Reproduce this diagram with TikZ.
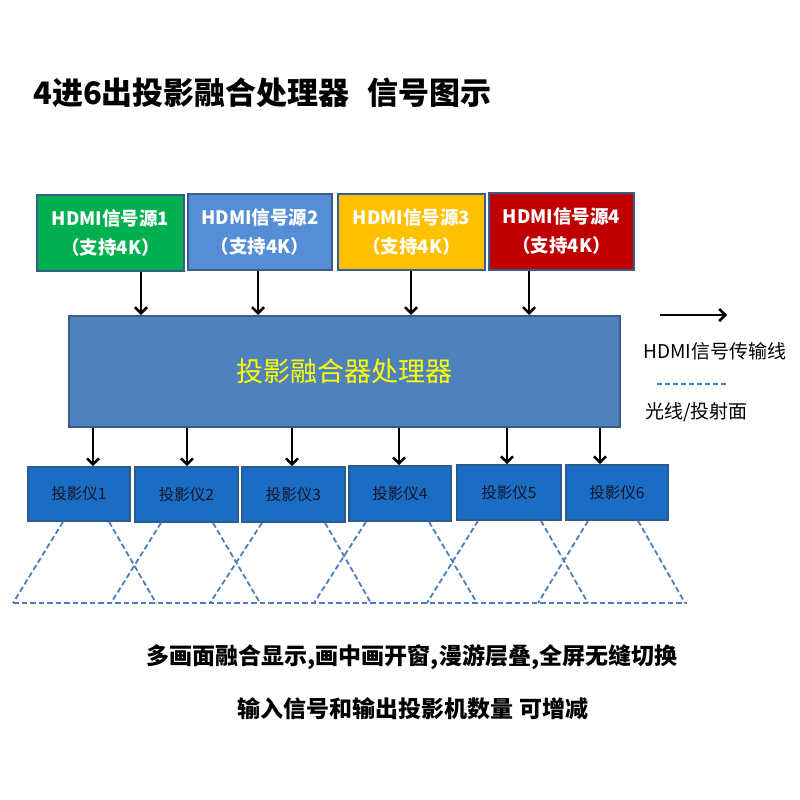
\documentclass[tikz,border=0pt]{standalone}
\usepackage{fontspec}
\setmainfont{Noto Sans CJK SC}
\usetikzlibrary{arrows.meta,calc}
\definecolor{sgreen}{HTML}{00B050}
\definecolor{sblue}{HTML}{558ED5}
\definecolor{syellow}{HTML}{FFC000}
\definecolor{sred}{HTML}{C00000}
\definecolor{bordc}{HTML}{385D8A}
\definecolor{mainc}{HTML}{4F81BD}
\definecolor{projc}{HTML}{1A6DC2}
\definecolor{projb}{HTML}{2C5C8E}
\definecolor{rayc}{HTML}{4A7EBB}
\definecolor{ytext}{HTML}{FFFF00}
\definecolor{ptext}{HTML}{15152A}
\begin{document}
\begin{tikzpicture}[x=1pt,y=-1pt,
  srcbox/.style={draw=bordc, line width=2pt, inner sep=0pt, align=center, text=white,
    font=\fontsize{18.5}{29}\selectfont\bfseries},
  mainbox/.style={draw=bordc, line width=2pt, fill=mainc, inner sep=0pt, text=ytext,
    font=\fontsize{27}{30}\selectfont},
  projbox/.style={draw=projb, line width=1.6pt, fill=projc, inner sep=0pt, text=ptext,
    font=\fontsize{15.5}{18}\selectfont},
  arr/.style={draw=black, line width=2.8pt, -{Straight Barb[length=6pt,width=12pt,line width=2.6pt]}},
  ray/.style={draw=rayc, line width=1.8pt, dash pattern=on 5.5pt off 3pt},
  lbl/.style={inner sep=0pt, text=black},
]
\useasboundingbox (0,0) rectangle (800,800);
\fill[white] (0,0) rectangle (800,800);

% title
\node[lbl, anchor=west, font=\fontsize{31}{34}\selectfont\bfseries] (title) at (33,93)
  {4进6出投影融合处理器\hspace{18pt}信号图示};

% sources
\node[srcbox, fill=sgreen, minimum width=147pt, minimum height=76pt] (s1) at (110.5,233) {HDMI信号源1\\（支持4K）};
\node[srcbox, fill=sblue, minimum width=144pt, minimum height=76pt] (s2) at (260,232) {HDMI信号源2\\（支持4K）};
\node[srcbox, fill=syellow, minimum width=147pt, minimum height=76pt] (s3) at (411.5,232) {HDMI信号源3\\（支持4K）};
\node[srcbox, fill=sred, minimum width=145pt, minimum height=77pt] (s4) at (561.5,231.5) {HDMI信号源4\\（支持4K）};

% main box
\node[mainbox, minimum width=551pt, minimum height=111pt] (m) at (344.5,371.5) {投影融合器处理器};

% arrows sources -> main
\draw[arr] (141,0 |- s1.south) -- (141,0 |- m.north);
\draw[arr] (258,0 |- s2.south) -- (258,0 |- m.north);
\draw[arr] (411,0 |- s3.south) -- (411,0 |- m.north);
\draw[arr] (529,0 |- s4.south) -- (529,0 |- m.north);

% projectors
\node[projbox, minimum width=102pt, minimum height=54pt] (p1) at (79,494) {投影仪1};
\node[projbox, minimum width=103pt, minimum height=55pt] (p2) at (186.5,494.5) {投影仪2};
\node[projbox, minimum width=103pt, minimum height=55pt] (p3) at (293.5,494.5) {投影仪3};
\node[projbox, minimum width=102pt, minimum height=55pt] (p4) at (400,493.5) {投影仪4};
\node[projbox, minimum width=104pt, minimum height=55pt] (p5) at (509,492.5) {投影仪5};
\node[projbox, minimum width=102pt, minimum height=55pt] (p6) at (617,492.5) {投影仪6};

% arrows main -> projectors
\draw[arr] (93,0 |- m.south) -- (93,0 |- p1.north);
\draw[arr] (187,0 |- m.south) -- (187,0 |- p2.north);
\draw[arr] (292,0 |- m.south) -- (292,0 |- p3.north);
\draw[arr] (399,0 |- m.south) -- (399,0 |- p4.north);
\draw[arr] (507,0 |- m.south) -- (507,0 |- p5.north);
\draw[arr] (600,0 |- m.south) -- (600,0 |- p6.north);

% light rays
\coordinate (bl) at (13,603);
\coordinate (br) at (687,603);
\draw[ray] (bl) -- (br);
\draw[ray] (63,0 |- p1.south) -- (13,603);
\draw[ray] (109,0 |- p1.south) -- (156,603);
\draw[ray] (161,0 |- p2.south) -- (111,603);
\draw[ray] (213,0 |- p2.south) -- (260,603);
\draw[ray] (262,0 |- p3.south) -- (210,603);
\draw[ray] (325,0 |- p3.south) -- (371,603);
\draw[ray] (366,0 |- p4.south) -- (314,603);
\draw[ray] (429,0 |- p4.south) -- (477,603);
\draw[ray] (478,0 |- p5.south) -- (427,603);
\draw[ray] (541,0 |- p5.south) -- (588,603);
\draw[ray] (588,0 |- p6.south) -- (538,603);
\draw[ray] (638,0 |- p6.south) -- (685,603);

% legend
\coordinate (la) at (660,315);
\coordinate (lb) at (727,315);
\draw[arr] (la) -- (lb);
\node[lbl, anchor=west, font=\fontsize{19}{20}\selectfont] (lt1) at (643,351) {HDMI信号传输线};
\coordinate (da) at (657,384);
\coordinate (db) at (728,384);
\draw[draw=rayc, line width=2pt, dash pattern=on 5pt off 3pt] (da) -- (db);
\node[lbl, anchor=west, font=\fontsize{19}{20}\selectfont] (lt2) at (645,412) {光线/投射面};

% bottom texts
\node[lbl, font=\fontsize{23}{26}\selectfont\bfseries] (b1) at (412,657) {多画面融合显示,画中画开窗,漫游层叠,全屏无缝切换};
\node[lbl, font=\fontsize{23}{26}\selectfont\bfseries] (b2) at (413,709) {输入信号和输出投影机数量 可增减};
\end{tikzpicture}
\end{document}
